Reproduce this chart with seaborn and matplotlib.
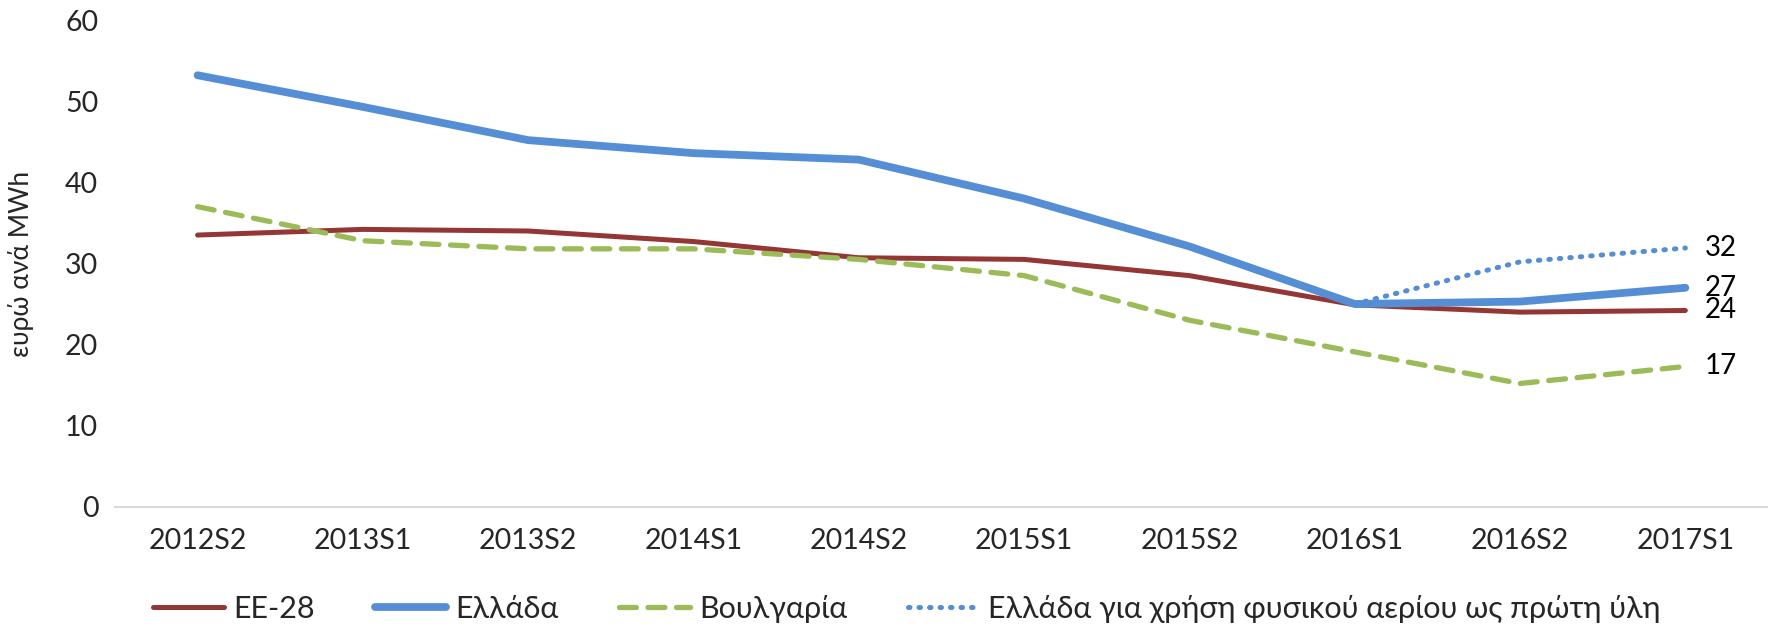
import numpy as np
import pandas as pd
import matplotlib
matplotlib.use('Agg')
import matplotlib.pyplot as plt
import seaborn as sns

# data
periods = ['2012S2', '2013S1', '2013S2', '2014S1', '2014S2',
           '2015S1', '2015S2', '2016S1', '2016S2', '2017S1']
ee28 = [33.5, 34.2, 34.0, 32.7, 30.7, 30.5, 28.5, 24.9, 24.0, 24.2]
ellada = [53.2, 49.3, 45.2, 43.6, 42.8, 38.0, 32.1, 25.0, 25.3, 27.0]
voulgaria = [37.0, 32.8, 31.8, 31.8, 30.5, 28.5, 23.0, 19.1, 15.2, 17.3]
ellada_feedstock = [np.nan, np.nan, np.nan, np.nan, np.nan, np.nan, np.nan, 25.0, 30.2, 31.9]
end_labels = ['24', '27', '17', '32']

sns.set_theme(style='white')
plt.rcParams['font.family'] = ['Lato', 'DejaVu Sans']

df = pd.DataFrame({'x': np.arange(len(periods)), 'EE-28': ee28, 'Ελλάδα': ellada,
                   'Βουλγαρία': voulgaria,
                   'Ελλάδα για χρήση φυσικού αερίου ως πρώτη ύλη': ellada_feedstock})

fig = plt.figure(figsize=(17.68, 6.28), dpi=100)
ax = fig.add_axes([0.065, 0.193, 0.935, 0.775])

styles = {
    'EE-28': dict(color='#943634', lw=3.6, ls='-'),
    'Ελλάδα': dict(color='#558ED5', lw=5.6, ls='-'),
    'Βουλγαρία': dict(color='#9BBB59', lw=3.8, ls=(0, (3.2, 2.2))),
    'Ελλάδα για χρήση φυσικού αερίου ως πρώτη ύλη': dict(color='#558ED5', lw=3.6, ls=(0, (0.3, 1.8))),
}
for name, st in styles.items():
    d = df[['x', name]].dropna()
    sns.lineplot(data=d, x='x', y=name, ax=ax, color=st['color'], linewidth=st['lw'],
                 linestyle=st['ls'], label=name, dash_capstyle='round', solid_capstyle='round')

# end value labels
last = [ee28[-1], ellada[-1], voulgaria[-1], ellada_feedstock[-1]]
for val, lab in zip(last, end_labels):
    ax.text(len(periods) - 1 + 0.12, val, lab, fontsize=20, va='center', ha='left', color='black')

ax.set_xlim(-0.5, len(periods) - 0.5)
ax.set_ylim(0, 60)
ax.set_yticks(range(0, 61, 10))
ax.set_xticks(range(len(periods)))
ax.set_xticklabels(periods)
ax.tick_params(axis='both', labelsize=20.5, length=0, pad=12)
ax.tick_params(axis='x', pad=15)
ax.set_xlabel('')
ax.set_ylabel('ευρώ ανά MWh', fontsize=19, labelpad=22)
for s in ['top', 'right', 'left']:
    ax.spines[s].set_visible(False)
ax.spines['bottom'].set_color('#d9d9d9')
ax.spines['bottom'].set_linewidth(1.5)

ax.legend(loc='center', bbox_to_anchor=(0.479, -0.21), ncol=4, frameon=False,
          fontsize=22, handlelength=2.3, columnspacing=2.0, handletextpad=0.3)

fig.savefig('out.png', dpi=100)
